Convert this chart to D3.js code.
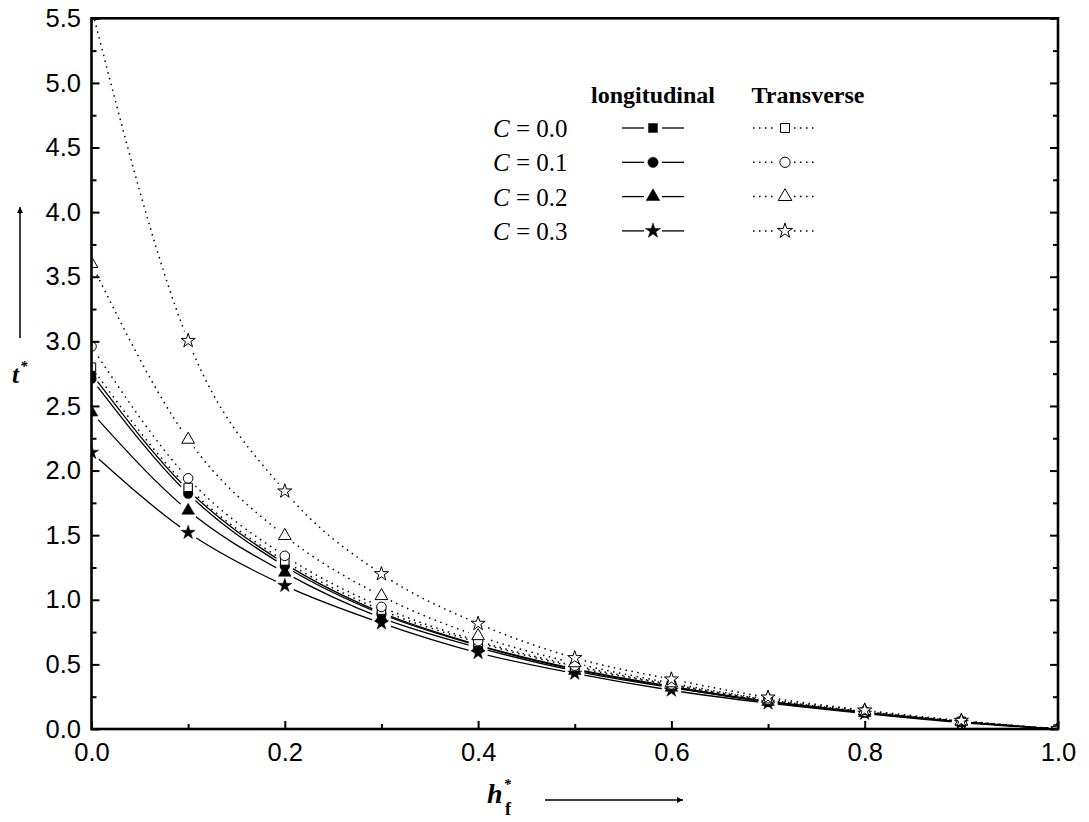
<!DOCTYPE html>
<html>
<head>
<meta charset="utf-8">
<script src="https://d3js.org/d3.v7.min.js"></script>
<style>
  body { margin: 0; background: #fff; }
  svg { display: block; }
</style>
</head>
<body>
<div class="vis"></div>
<script>
  // h*_f values along x
  const hf = [0.0, 0.1, 0.2, 0.3, 0.4, 0.5, 0.6, 0.7, 0.8, 0.9, 1.0];

  // longitudinal (solid line, filled symbols)
  const longC00 = [2.75, 1.85, 1.28, 0.90, 0.65, 0.465, 0.33, 0.215, 0.13, 0.055, 0];
  const longC01 = [2.71, 1.82, 1.26, 0.89, 0.645, 0.46, 0.325, 0.21, 0.125, 0.055, 0];
  const longC02 = [2.45, 1.69, 1.21, 0.86, 0.63, 0.45, 0.32, 0.21, 0.125, 0.055, 0];
  const longC03 = [2.14, 1.52, 1.11, 0.82, 0.59, 0.43, 0.30, 0.20, 0.12, 0.05, 0];

  // transverse (dotted line, open symbols)
  const tranC00 = [2.80, 1.87, 1.30, 0.92, 0.67, 0.48, 0.34, 0.22, 0.13, 0.06, 0];
  const tranC01 = [2.96, 1.94, 1.34, 0.945, 0.68, 0.49, 0.345, 0.225, 0.135, 0.06, 0];
  const tranC02 = [3.60, 2.24, 1.495, 1.03, 0.72, 0.51, 0.355, 0.23, 0.14, 0.06, 0];
  const tranC03 = [5.58, 3.005, 1.84, 1.20, 0.816, 0.55, 0.385, 0.245, 0.145, 0.065, 0];

  const cLabels = ["0.0", "0.1", "0.2", "0.3"];
  const yTicks = [0, 0.5, 1.0, 1.5, 2.0, 2.5, 3.0, 3.5, 4.0, 4.5, 5.0, 5.5];
  const xTicks = [0, 0.2, 0.4, 0.6, 0.8, 1.0];

  const W = 1089, H = 822;
  const pLeft = 91.5, pRight = 1058, pTop = 18.3, pBottom = 729;

  const x = d3.scaleLinear().domain([0, 1]).range([pLeft, pRight]);
  const y = d3.scaleLinear().domain([0, 5.5]).range([pBottom, pTop]);

  const symbols = [d3.symbolSquare, d3.symbolCircle, d3.symbolTriangle, d3.symbolStar];
  const symSize = [70, 72, 70, 62];

  const series = [];
  [longC00, longC01, longC02, longC03].forEach((v, i) =>
    series.push({id: "l" + i, values: v, sym: i, filled: true, dotted: false}));
  [tranC00, tranC01, tranC02, tranC03].forEach((v, i) =>
    series.push({id: "t" + i, values: v, sym: i, filled: false, dotted: true}));

  const svg = d3.select('.vis').append('svg')
    .attr("width", W).attr("height", H)
    .attr("viewBox", [0, 0, W, H]);

  const defs = svg.append("defs");
  defs.append("clipPath").attr("id", "plotclip")
    .append("rect")
    .attr("x", pLeft).attr("y", pTop)
    .attr("width", pRight - pLeft).attr("height", pBottom - pTop);

  // masks cut the line around each of its own symbols
  series.forEach(s => {
    const m = defs.append("mask").attr("id", "gap-" + s.id)
      .attr("maskUnits", "userSpaceOnUse")
      .attr("x", 0).attr("y", 0).attr("width", W).attr("height", H);
    m.append("rect").attr("x", 0).attr("y", 0).attr("width", W).attr("height", H).attr("fill", "#fff");
    m.selectAll("circle").data(hf).join("circle")
      .attr("cx", d => x(d))
      .attr("cy", (d, i) => y(s.values[i]))
      .attr("r", 10)
      .attr("fill", "#000");
  });

  const line = d3.line()
    .x((d, i) => x(hf[i]))
    .y(d => y(d))
    .curve(d3.curveMonotoneX);

  const plot = svg.append("g").attr("clip-path", "url(#plotclip)");

  series.forEach(s => {
    plot.append("g").attr("mask", "url(#gap-" + s.id + ")")
      .append("path")
      .attr("d", line(s.values))
      .attr("fill", "none")
      .attr("stroke", "#000")
      .attr("stroke-width", s.dotted ? 1.5 : 1.3)
      .attr("stroke-dasharray", s.dotted ? "1.5,4.5" : null);
  });

  series.forEach(s => {
    plot.append("g").selectAll("path")
      .data(hf)
      .join("path")
      .attr("d", d3.symbol().type(symbols[s.sym]).size(symSize[s.sym]))
      .attr("transform", (d, i) => `translate(${x(d)},${y(s.values[i])})`)
      .attr("fill", s.filled ? "#000" : "#fff")
      .attr("stroke", "#000")
      .attr("stroke-width", s.filled ? 0.5 : 1);
  });

  // axes
  const tickFont = "'Liberation Sans', Arial, sans-serif";
  const fmt = d3.format(".1f");
  const yMinor = [0.25, 0.75, 1.25, 1.75, 2.25, 2.75, 3.25, 3.75, 4.25, 4.75, 5.25];
  const xMinor = [0.1, 0.3, 0.5, 0.7, 0.9];

  svg.append("g").attr("transform", `translate(${pLeft},0)`)
    .call(d3.axisLeft(y).tickValues(yTicks).tickFormat(fmt).tickSize(-8).tickPadding(10.5));
  svg.append("g").attr("transform", `translate(${pLeft},0)`)
    .call(d3.axisLeft(y).tickValues(yMinor).tickFormat("").tickSize(-5));
  svg.append("g").attr("transform", `translate(${pRight},0)`)
    .call(d3.axisRight(y).tickValues(yTicks).tickFormat("").tickSize(-8));
  svg.append("g").attr("transform", `translate(${pRight},0)`)
    .call(d3.axisRight(y).tickValues(yMinor).tickFormat("").tickSize(-5));

  svg.append("g").attr("transform", `translate(0,${pBottom})`)
    .call(d3.axisBottom(x).tickValues(xTicks).tickFormat(fmt).tickSize(-8).tickPadding(13.5));
  svg.append("g").attr("transform", `translate(0,${pBottom})`)
    .call(d3.axisBottom(x).tickValues(xMinor).tickFormat("").tickSize(-5));

  svg.selectAll(".domain").remove();
  svg.selectAll(".tick line").attr("stroke", "#000").attr("stroke-width", 2);
  svg.selectAll(".tick text")
    .attr("font-family", tickFont).attr("font-size", 25.5).attr("fill", "#000");

  // frame
  svg.append("rect")
    .attr("x", pLeft).attr("y", pTop)
    .attr("width", pRight - pLeft).attr("height", pBottom - pTop)
    .attr("fill", "none").attr("stroke", "#000").attr("stroke-width", 2.6);

  // axis titles
  const serif = "'Liberation Serif', 'Times New Roman', serif";
  const yt = svg.append("text")
    .attr("x", 12).attr("y", 383)
    .attr("font-family", serif).attr("font-size", 25)
    .attr("font-weight", "bold").attr("font-style", "italic");
  yt.append("tspan").text("t");
  yt.append("tspan").attr("font-size", 15).attr("dy", -12).attr("dx", 1).text("*");

  const xt = svg.append("text")
    .attr("x", 487).attr("y", 803)
    .attr("font-family", serif).attr("font-size", 28)
    .attr("font-weight", "bold").attr("font-style", "italic");
  xt.append("tspan").text("h");
  xt.append("tspan").attr("font-size", 15).attr("dy", -14).attr("dx", 1).text("*");
  xt.append("tspan").attr("font-size", 18).attr("font-style", "normal")
    .attr("dy", 26).attr("dx", -6).text("f");

  defs.append("marker").attr("id", "arrow")
    .attr("viewBox", "0 0 10 10").attr("refX", 10).attr("refY", 5)
    .attr("markerWidth", 10).attr("markerHeight", 6)
    .attr("markerUnits", "userSpaceOnUse")
    .attr("orient", "auto")
    .append("path").attr("d", "M0,0 L10,5 L0,10 z").attr("fill", "#000");

  svg.append("line")
    .attr("x1", 20).attr("y1", 338).attr("x2", 20).attr("y2", 207)
    .attr("stroke", "#000").attr("stroke-width", 1.5).attr("marker-end", "url(#arrow)");
  svg.append("line")
    .attr("x1", 545).attr("y1", 800).attr("x2", 683).attr("y2", 800)
    .attr("stroke", "#000").attr("stroke-width", 1.5).attr("marker-end", "url(#arrow)");

  // legend
  const lg = svg.append("g").attr("font-family", serif).attr("fill", "#000");
  const rowY = d => 128 + d * 34.3;
  lg.append("text").attr("x", 653).attr("y", rowY(-1) + 9)
    .attr("text-anchor", "middle").attr("font-size", 24).attr("font-weight", "bold")
    .text("longitudinal");
  lg.append("text").attr("x", 808).attr("y", rowY(-1) + 9)
    .attr("text-anchor", "middle").attr("font-size", 24).attr("font-weight", "bold")
    .text("Transverse");

  cLabels.forEach((c, i) => {
    const t = lg.append("text").attr("x", 493).attr("y", rowY(i) + 9)
      .attr("font-size", 25);
    t.append("tspan").attr("font-style", "italic").text("C");
    t.append("tspan").text(" = " + c);
  });

  series.forEach(s => {
    const row = s.sym;
    const cx = s.dotted ? 785 : 653;
    const x0 = s.dotted ? 753 : 622, x1 = s.dotted ? 816 : 684;
    const yy = rowY(row);
    lg.append("line").attr("x1", x0).attr("x2", cx - 9).attr("y1", yy).attr("y2", yy)
      .attr("stroke", "#000").attr("stroke-width", s.dotted ? 1.5 : 1.3)
      .attr("stroke-dasharray", s.dotted ? "1.5,4.5" : null);
    lg.append("line").attr("x1", cx + 9).attr("x2", x1).attr("y1", yy).attr("y2", yy)
      .attr("stroke", "#000").attr("stroke-width", s.dotted ? 1.5 : 1.3)
      .attr("stroke-dasharray", s.dotted ? "1.5,4.5" : null);
    lg.append("path")
      .attr("d", d3.symbol().type(symbols[s.sym]).size(symSize[s.sym] * 1.15))
      .attr("transform", `translate(${cx},${yy})`)
      .attr("fill", s.filled ? "#000" : "#fff")
      .attr("stroke", "#000").attr("stroke-width", s.filled ? 0.5 : 1);
  });
</script>
</body>
</html>
